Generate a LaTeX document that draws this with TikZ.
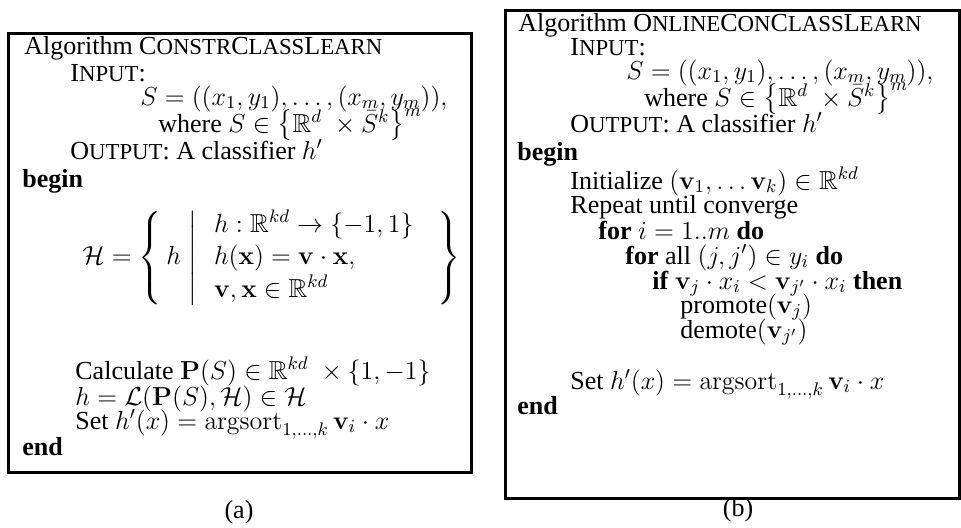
\RequirePackage{fix-cm}
\documentclass[tikz,border=0pt]{standalone}
\usepackage{amsmath,amssymb}
\usepackage[no-math]{fontspec}
\setmainfont{Liberation Serif}
\newcommand{\fsc}[1]{{\fontsize{11.4}{12}\selectfont #1}}
\tikzset{
  line/.style={anchor=base west, inner sep=0pt},
  algbox/.style={draw, line width=1.5pt},
  sublabel/.style={inner sep=0pt}
}
\begin{document}
\begin{tikzpicture}[x=0.5pt,y=-0.5pt,font=\fontsize{13}{15}\selectfont]
\useasboundingbox (0,0) rectangle (961,527);
% box (a)
\node[algbox, minimum width=463*0.5pt, minimum height=439*0.5pt, anchor=north west, inner sep=0pt] (boxa) at (7,32) {};
\node[line] (a1) at (24,54) {Algorithm C\fsc{ONSTR}C\fsc{LASS}L\fsc{EARN}};
\node[line] (a2) at (70,81) {I\fsc{NPUT}:};
\node[line] (a3) at (140,105) {$S=((x_1,y_1),\ldots,(x_m,y_m)),$};
\node[line] (a4) at (158,132) {where $S\in\bigl\{\mathbb{R}^d\;\times\bar{S}^k\bigr\}^m$};
\node[line] (a5) at (70,159) {O\fsc{UTPUT}: A classifier $h'$};
\node[line] (a6) at (22,187) {\textbf{begin}};
\node[anchor=west, inner sep=0pt] (a7) at (82,258) {$\mathcal{H}=\left\{\,h\;\middle|\;\begin{array}{l}h:\mathbb{R}^{kd}\to\{-1,1\}\\[1pt] h(\mathbf{x})=\mathbf{v}\cdot\mathbf{x},\\[1pt] \mathbf{v},\mathbf{x}\in\mathbb{R}^{kd}\end{array}\hspace{7pt}\right\}$};
\node[line] (a8) at (75,379) {Calculate $\mathbf{P}(S)\in\mathbb{R}^{kd}\;\times\{1,-1\}$};
\node[line] (a9) at (75,405) {$h=\mathcal{L}(\mathbf{P}(S),\mathcal{H})\in\mathcal{H}$};
\node[line] (a10) at (75,429) {Set $h'(x)=\mathrm{argsort}_{1,\ldots,k}\,\mathbf{v}_i\cdot x$};
\node[line] (a11) at (22,455) {\textbf{end}};
\node[sublabel] (la) at (239,512) {(a)};
% box (b)
\node[algbox, minimum width=454*0.5pt, minimum height=488*0.5pt, anchor=north west, inner sep=0pt] (boxb) at (504,9) {};
\node[line] (b1) at (518,31) {Algorithm O\fsc{NLINE}C\fsc{ON}C\fsc{LASS}L\fsc{EARN}};
\node[line] (b2) at (570,55) {I\fsc{NPUT}:};
\node[line] (b3) at (626,79) {$S=((x_1,y_1),\ldots,(x_m,y_m)),$};
\node[line] (b4) at (644,106) {where $S\in\bigl\{\mathbb{R}^d\;\times\bar{S}^k\bigr\}^m$};
\node[line] (b5) at (570,132) {O\fsc{UTPUT}: A classifier $h'$};
\node[line] (b6) at (517,160) {\textbf{begin}};
\node[line] (b7) at (570,189) {Initialize $(\mathbf{v}_1,\ldots\mathbf{v}_k)\in\mathbb{R}^{kd}$};
\node[line] (b8) at (570,213) {Repeat until converge};
\node[line] (b9) at (598,239) {\textbf{for} $i=1..m$ \textbf{do}};
\node[line] (b10) at (625,264) {\textbf{for} all $(j,j')\in y_i$ \textbf{do}};
\node[line] (b11) at (652,289) {\textbf{if} $\mathbf{v}_j\cdot x_i<\mathbf{v}_{j'}\cdot x_i$ \textbf{then}};
\node[line] (b12) at (680,313) {promote$(\mathbf{v}_j)$};
\node[line] (b13) at (680,338) {demote$(\mathbf{v}_{j'})$};
\node[line] (b14) at (570,389) {Set $h'(x)=\mathrm{argsort}_{1,\ldots,k}\,\mathbf{v}_i\cdot x$};
\node[line] (b15) at (517,414) {\textbf{end}};
\node[sublabel] (lb) at (738,510) {(b)};
\end{tikzpicture}
\end{document}
